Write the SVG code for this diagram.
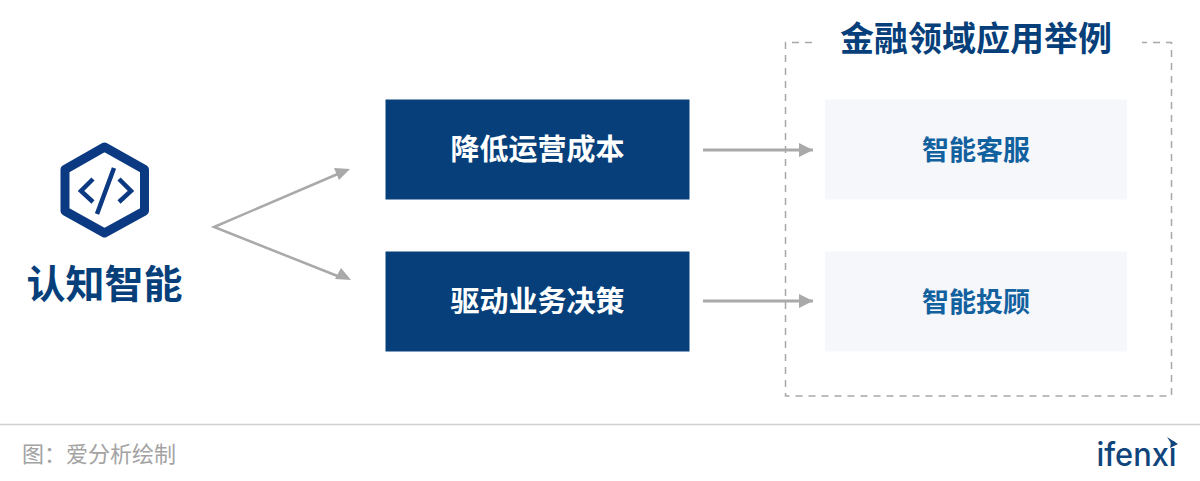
<svg xmlns="http://www.w3.org/2000/svg" width="1200" height="481" viewBox="0 0 1200 481">
<style>
text{font-family:"Noto Sans CJK SC","Noto Sans",sans-serif;text-anchor:middle}
.box{fill:#063f7a}
.lt{fill:#f5f7fb}
.w{fill:#fff;font-size:29px;font-weight:700}
.b{fill:#12619f;font-size:27px;font-weight:700}
.c{fill:none;stroke:#a9a9a9;stroke-width:3}
.ic{fill:none;stroke:#0c3a82;stroke-width:4.500}
</style>
<defs>
<marker id="a" markerUnits="userSpaceOnUse" markerWidth="16" markerHeight="14" refX="14" refY="7" orient="auto"><path d="M0 0L14 7L0 14z" fill="#a9a9a9"/></marker>
</defs>
<rect width="1200" height="481" fill="#fff"/>
<g id="frame">
<path d="M812 42.500H785.500V396H1171.500V42.500H1142" fill="none" stroke="#a8a8a8" stroke-width="1.500" stroke-dasharray="7 6"/>
<text x="976" y="51" font-size="34" font-weight="700" fill="#063f7a">金融领域应用举例</text>
</g>
<g id="icon">
<path d="M104.500 147L144.500 169.500V211L104.500 233L65 211V169.500Z" fill="none" stroke="#0c3a82" stroke-width="9" stroke-linejoin="round"/>
<path class="ic" d="M93 179L81 191L93 202M119 179L131 191L119 202M114 168L97 214"/>
<text x="104.500" y="298" font-size="39" font-weight="700" fill="#063f7a">认知智能</text>
</g>
<g id="connectors">
<path class="c" d="M340 173L214 227L340 277" style="stroke-width:2.500"/>
<path d="M350 169L334 168L339 180Z" fill="#a9a9a9"/>
<path d="M351 280L335 279L341 268Z" fill="#a9a9a9"/>
<path class="c" d="M703 150H813" marker-end="url(#a)"/>
<path class="c" d="M703 301H813" marker-end="url(#a)"/>
</g>
<g id="n1"><rect class="box" x="385.500" y="99.500" width="304" height="100"/><text class="w" x="537.500" y="160">降低运营成本</text></g>
<g id="n2"><rect class="box" x="385.500" y="251.500" width="304" height="100"/><text class="w" x="537.500" y="312">驱动业务决策</text></g>
<g id="n3"><rect class="lt" x="825" y="99.500" width="302" height="100"/><text class="b" x="976" y="160">智能客服</text></g>
<g id="n4"><rect class="lt" x="825" y="251.500" width="302" height="100"/><text class="b" x="976" y="312">智能投顾</text></g>
<g id="footer">
<path d="M0 424.500H1200" stroke="#d0d0d0" stroke-width="1.500"/>
<text x="99" y="462" font-size="22" fill="#a3a3a3">图：爱分析绘制</text>
<text x="1136.500" y="466" font-size="32" font-weight="500" textLength="80" lengthAdjust="spacingAndGlyphs" fill="#10457c" style="font-family:Inter,sans-serif">ifenxi</text>
<path d="M1167 437L1178 444L1170 448L1171 443Z" fill="#10457c"/>
</g>
</svg>
